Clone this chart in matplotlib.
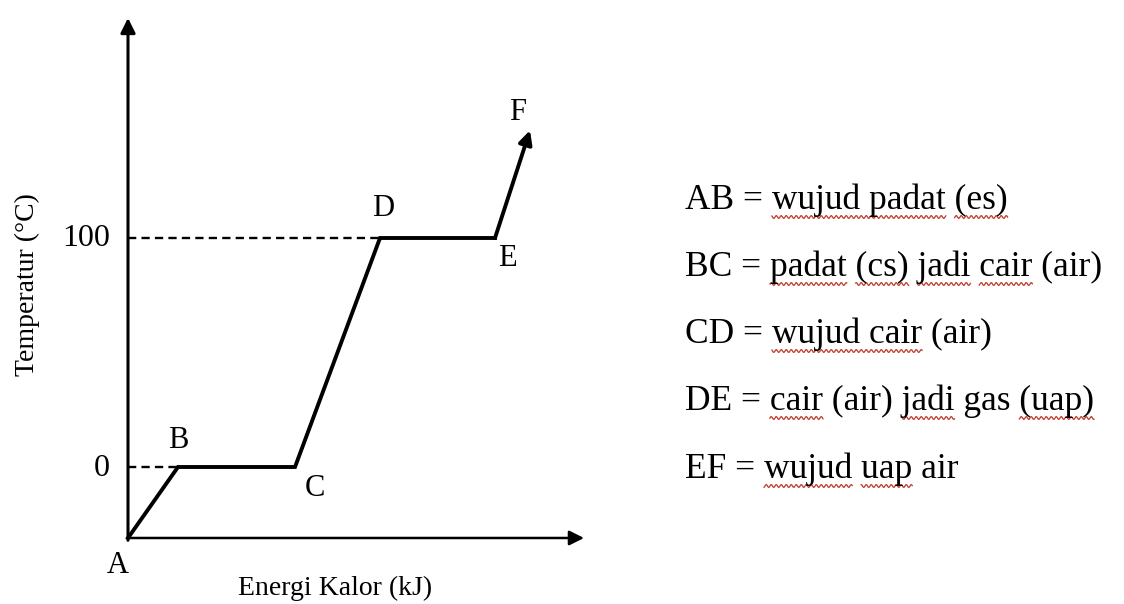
import matplotlib
matplotlib.use("Agg")
import matplotlib.pyplot as plt
import numpy as np

# data titik kurva pemanasan es -> uap
titik = ["A", "B", "C", "D", "E", "F"]
energi = [0, 50, 167, 252, 367, 402]
suhu = [-31, 0, 0, 100, 100, 147]
yticks = [0, 100]
ytick_labels = ["0", "100"]

keterangan = [
    "AB = wujud padat (es)",
    "BC = padat (cs) jadi cair (air)",
    "CD = wujud cair (air)",
    "DE = cair (air) jadi gas (uap)",
    "EF = wujud uap air",
]
# kata yang diberi garis bergelombang merah (spell check)
garis_merah = [
    ["wujud padat", "(es)"],
    ["padat", "(cs)", "jadi", "cair"],
    ["wujud cair"],
    ["cair", "jadi", "(uap)"],
    ["wujud", "uap"],
]

plt.rcParams['font.family'] = ['Liberation Serif', 'DejaVu Serif']

fig = plt.figure(figsize=(11.24, 6.04), dpi=100)
ax = fig.add_axes([0, 0, 1, 1])
# skala: 1 satuan energi = 1 px, 1 derajat = 2.29 px
px_per_deg = 2.29
x0_px, y0_px = 128, 467
ax.set_xlim(-x0_px, 1124 - x0_px)
ax.set_ylim(-(604 - y0_px) / px_per_deg, y0_px / px_per_deg)
ax.axis('off')

y_bawah = suhu[0]
y_atas = (y0_px - 18) / px_per_deg
x_kanan = 456

# sumbu
ax.annotate("", xy=(0, y_atas), xytext=(0, y_bawah - 1),
            arrowprops=dict(arrowstyle="-|>", color="black", lw=2.2,
                            mutation_scale=22, shrinkA=0, shrinkB=0))
ax.annotate("", xy=(x_kanan, y_bawah), xytext=(-1, y_bawah),
            arrowprops=dict(arrowstyle="-|>", color="black", lw=1.8,
                            mutation_scale=22, shrinkA=0, shrinkB=0))

# garis putus-putus
ax.plot([0, energi[1]], [suhu[1], suhu[1]], ls=(0, (3.5, 2.2)), color="black", lw=1.7)
ax.plot([0, energi[3]], [suhu[3], suhu[3]], ls=(0, (3.5, 2.2)), color="black", lw=1.7)

# kurva
ax.plot(energi[:5], suhu[:5], color="black", lw=2.8, solid_joinstyle="miter")
ax.annotate("", xy=(energi[5], suhu[5]), xytext=(energi[4], suhu[4]),
            arrowprops=dict(arrowstyle="-|>", color="black", lw=2.8,
                            mutation_scale=20, shrinkA=0, shrinkB=0))

# label titik
offset = {"A": (-10, -28), "B": (0, 27), "C": (20, -21), "D": (3, 29),
          "E": (12, -20), "F": (-12, 18)}
for nama, x, y in zip(titik, energi, suhu):
    dx, dy = offset[nama]
    ax.annotate(nama, (x, y), xytext=(dx, dy), textcoords="offset pixels",
                ha="center", va="center", fontsize=22)

for yt, lab in zip(yticks, ytick_labels):
    ax.annotate(lab, (0, yt), xytext=(-18, -1), textcoords="offset pixels",
                ha="right", va="center", fontsize=23)

ax.text(27 - x0_px, (y0_px - 285) / px_per_deg, "Temperatur (°C)", rotation=90,
        ha="center", va="center", fontsize=20)
ax.annotate("Energi Kalor (kJ)", (335 - x0_px, y_bawah), xytext=(0, -50),
            textcoords="offset pixels", ha="center", va="center", fontsize=20)

# keterangan di kanan
renderer = fig.canvas.get_renderer()
fs = 25.5
x_teks = 685 / 1124
y_baris = [209, 276, 343, 410, 478]
for baris, yp, kata_list in zip(keterangan, y_baris, garis_merah):
    yf = 1 - yp / 604
    fig.text(x_teks, yf, baris, fontsize=fs, ha="left", va="baseline")
    for kata in kata_list:
        i = baris.index(kata, 4)
        t1 = fig.text(x_teks, yf, baris[:i + len(kata)], fontsize=fs)
        t2 = fig.text(x_teks, yf, kata, fontsize=fs)
        b1 = t1.get_window_extent(renderer)
        b2 = t2.get_window_extent(renderer)
        t1.remove()
        t2.remove()
        x_akhir = b1.x1
        x_awal = x_akhir - b2.width
        xs = np.linspace(x_awal, x_akhir, int(x_akhir - x_awal) * 2)
        yb = fig.bbox.height * yf - 8
        ys = yb + 1.4 * np.sin(xs * 2 * np.pi / 5)
        fig.add_artist(plt.Line2D(xs / fig.bbox.width, ys / fig.bbox.height,
                                  color="#c0392b", lw=0.9,
                                  transform=fig.transFigure))

fig.savefig("out.png", dpi=100, facecolor="white")
